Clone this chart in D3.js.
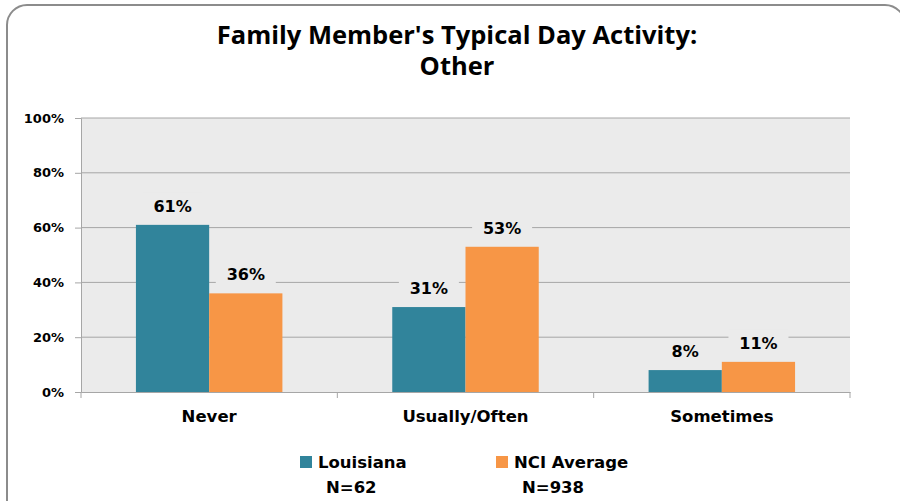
<!DOCTYPE html>
<html>
<head>
<meta charset="utf-8">
<script src="https://cdn.jsdelivr.net/npm/d3@7"></script>
<style>
  body { margin: 0; background: #fff; }
  text { font-family: "DejaVu Sans", Verdana, sans-serif; }
</style>
</head>
<body>
<svg id="chart" width="900" height="501"></svg>
<script>
// data
var categories = ["Never", "Usually/Often", "Sometimes"];
var seriesNames = ["Louisiana", "NCI Average"];
var seriesN = ["N=62", "N=938"];
var louisiana = [61, 31, 8];
var nciAverage = [36, 53, 11];
var yTicks = [0, 20, 40, 60, 80, 100];
var colors = ["#31849b", "#f79646"];

var svg = d3.select("#chart");

// outer frame
svg.append("rect")
    .attr("x", 7).attr("y", 5)
    .attr("width", 898).attr("height", 520)
    .attr("rx", 20)
    .attr("fill", "#fff")
    .attr("stroke", "#8c8c8c")
    .attr("stroke-width", 2);

// title
var title = svg.append("text")
    .attr("text-anchor", "middle")
    .style("font-family", "'Open Sans', sans-serif")
    .style("font-weight", "bold")
    .style("font-size", "25.5px")
    .attr("fill", "#000");
title.append("tspan").attr("x", 457).attr("y", 44).text("Family Member's Typical Day Activity:");
title.append("tspan").attr("x", 457).attr("y", 75).text("Other");

var margin = {left: 81, right: 850, top: 118, bottom: 392};

var x = d3.scaleBand()
    .domain(categories)
    .range([margin.left, margin.right])
    .paddingInner(0)
    .paddingOuter(0);

var x1 = d3.scaleBand()
    .domain(seriesNames)
    .range([0, x.bandwidth()])
    .paddingInner(0)
    .paddingOuter(0.75);

var y = d3.scaleLinear()
    .domain([0, 100])
    .range([margin.bottom, margin.top]);

// plot background
var plotBg = "#ebebeb";
svg.append("rect")
    .attr("x", margin.left).attr("y", margin.top)
    .attr("width", margin.right - margin.left)
    .attr("height", margin.bottom - margin.top)
    .attr("fill", plotBg);

// gridlines
svg.append("g")
    .selectAll("line")
    .data(yTicks.filter(function (d) { return d > 0; }))
    .join("line")
    .attr("x1", margin.left).attr("x2", margin.right)
    .attr("y1", function (d) { return y(d); })
    .attr("y2", function (d) { return y(d); })
    .attr("stroke", "#a6a6a6")
    .attr("stroke-width", 1);

// y axis
var yAxis = svg.append("g")
    .attr("transform", "translate(" + margin.left + ",0)")
    .call(d3.axisLeft(y).tickValues(yTicks).tickSize(6).tickPadding(11)
        .tickFormat(function (d) { return d + "%"; }));
yAxis.select(".domain").attr("stroke", "#a6a6a6");
yAxis.selectAll(".tick line").attr("stroke", "#a6a6a6");
yAxis.selectAll(".tick text")
    .style("font-size", "13px")
    .style("font-weight", "bold")
    .attr("fill", "#000");

// x axis
var xAxis = svg.append("g")
    .attr("transform", "translate(0," + margin.bottom + ")")
    .call(d3.axisBottom(x).tickSize(0).tickPadding(18));
xAxis.select(".domain").attr("stroke", "#a6a6a6");
xAxis.selectAll(".tick text")
    .style("font-size", "16.5px")
    .style("font-weight", "bold")
    .attr("fill", "#000");
// category separators
xAxis.selectAll(".sep")
    .data(d3.range(categories.length + 1))
    .join("line")
    .attr("class", "sep")
    .attr("x1", function (i) { return margin.left + i * x.bandwidth(); })
    .attr("x2", function (i) { return margin.left + i * x.bandwidth(); })
    .attr("y1", 0).attr("y2", 6)
    .attr("stroke", "#a6a6a6");

// bars
var rows = categories.map(function (c, i) {
    return {cat: c, values: [louisiana[i], nciAverage[i]]};
});

var groups = svg.append("g")
    .selectAll("g")
    .data(rows)
    .join("g")
    .attr("transform", function (d) { return "translate(" + x(d.cat) + ",0)"; });

groups.selectAll("rect")
    .data(function (d) { return d.values.map(function (v, j) { return {s: seriesNames[j], v: v, j: j}; }); })
    .join("rect")
    .attr("x", function (d) { return x1(d.s); })
    .attr("width", x1.bandwidth())
    .attr("y", function (d) { return y(d.v); })
    .attr("height", function (d) { return y(0) - y(d.v); })
    .attr("fill", function (d) { return colors[d.j]; });

// value labels, background matches plot so gridlines get cut
var labels = groups.selectAll("g.lbl")
    .data(function (d) { return d.values.map(function (v, j) { return {s: seriesNames[j], v: v, j: j}; }); })
    .join("g")
    .attr("class", "lbl");

labels.append("rect")
    .attr("x", function (d) { return x1(d.s) + x1.bandwidth() / 2 - 30; })
    .attr("y", function (d) { return y(d.v) - 32; })
    .attr("width", 60)
    .attr("height", 24)
    .attr("fill", plotBg);

labels.append("text")
    .attr("x", function (d) { return x1(d.s) + x1.bandwidth() / 2; })
    .attr("y", function (d) { return y(d.v) - 13; })
    .attr("text-anchor", "middle")
    .style("font-size", "16px")
    .style("font-weight", "bold")
    .attr("fill", "#000")
    .text(function (d) { return d.v + "%"; });

// legend
var legendX = [300, 496];
var legend = svg.append("g")
    .selectAll("g")
    .data(seriesNames)
    .join("g")
    .attr("transform", function (d, i) { return "translate(" + legendX[i] + ",456)"; });

legend.append("rect")
    .attr("width", 12).attr("height", 12)
    .attr("fill", function (d, i) { return colors[i]; });

legend.append("text")
    .attr("x", 18).attr("y", 12)
    .style("font-size", "16.5px")
    .style("font-weight", "bold")
    .text(function (d) { return d; });

legend.append("text")
    .attr("x", 26).attr("y", 37)
    .style("font-size", "16.5px")
    .style("font-weight", "bold")
    .text(function (d, i) { return seriesN[i]; });
</script>
</body>
</html>
